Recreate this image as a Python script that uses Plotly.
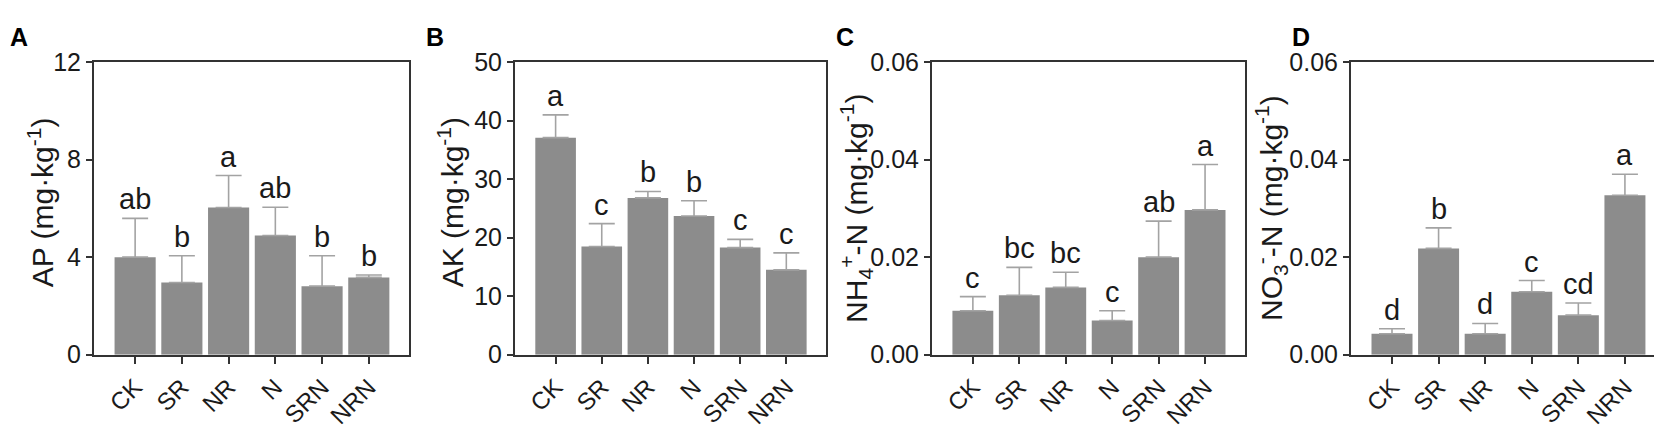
import plotly.graph_objects as go

categories = ["CK", "SR", "NR", "N", "SRN", "NRN"]

ap_mean = [4.00, 2.96, 6.04, 4.89, 2.81, 3.17]
ap_err = [1.59, 1.10, 1.31, 1.16, 1.25, 0.10]
ap_letters = ["ab", "b", "a", "ab", "b", "b"]

ak_mean = [37.1, 18.5, 26.8, 23.7, 18.3, 14.5]
ak_err = [3.9, 3.9, 1.1, 2.6, 1.4, 2.9]
ak_letters = ["a", "c", "b", "b", "c", "c"]

nh4_mean = [0.0090, 0.0122, 0.0138, 0.0070, 0.0200, 0.0297]
nh4_err = [0.0029, 0.0057, 0.0031, 0.0020, 0.0074, 0.0093]
nh4_letters = ["c", "bc", "bc", "c", "ab", "a"]

no3_mean = [0.0043, 0.0218, 0.0043, 0.0129, 0.0081, 0.0327]
no3_err = [0.0010, 0.0042, 0.0021, 0.0023, 0.0025, 0.0043]
no3_letters = ["d", "b", "d", "c", "cd", "a"]

panel_labels = ["A", "B", "C", "D"]
y_titles = [
    "AP (mg·kg<sup>-1</sup>)",
    "AK (mg·kg<sup>-1</sup>)",
    "NH<sub>4</sub><sup>+</sup>-N (mg·kg<sup>-1</sup>)",
    "NO<sub>3</sub><sup>-</sup>-N (mg·kg<sup>-1</sup>)",
]
y_ranges = [[0, 12], [0, 50], [0, 0.06], [0, 0.06]]
y_ticks = [[0, 4, 8, 12], [0, 10, 20, 30, 40, 50], [0, 0.02, 0.04, 0.06], [0, 0.02, 0.04, 0.06]]
y_ticktext = [["0", "4", "8", "12"], ["0", "10", "20", "30", "40", "50"],
              ["0.00", "0.02", "0.04", "0.06"], ["0.00", "0.02", "0.04", "0.06"]]

means = [ap_mean, ak_mean, nh4_mean, no3_mean]
errs = [ap_err, ak_err, nh4_err, no3_err]
letters = [ap_letters, ak_letters, nh4_letters, no3_letters]

W, H = 1662, 427
# plot-area pixel boxes (left, right)
boxes = [(86, 401), (507, 818), (924, 1237), (1343, 1657)]
top_px, bottom_px = 43, 356
label_x = [0, 416, 826, 1282]
label_y = 16
title_x = [33, 443, 848, 1263]
title_y = [193, 193, 200, 199]

FONT = "Liberation Sans, Arial, sans-serif"
BAR = "#8c8c8c"
ERR = "#a3a3a3"
AXC = "#333333"
TXT = "#1a1a1a"

fig = go.Figure()
layout = dict(
    width=W, height=H, margin=dict(l=0, r=0, t=0, b=0),
    paper_bgcolor="white", plot_bgcolor="white", showlegend=False,
    font=dict(family=FONT, color=TXT), bargap=0.12,
)
annotations = []
for i in range(4):
    xa = "x" if i == 0 else f"x{i+1}"
    ya = "y" if i == 0 else f"y{i+1}"
    fig.add_trace(go.Bar(
        x=categories, y=means[i], xaxis=xa, yaxis=ya,
        marker=dict(color=BAR, line=dict(width=0)),
        error_y=dict(type="data", array=errs[i], arrayminus=[0]*6, symmetric=False,
                     color=ERR, thickness=1.6, width=13),
    ))
    l, r = boxes[i]
    xkey = "xaxis" if i == 0 else f"xaxis{i+1}"
    ykey = "yaxis" if i == 0 else f"yaxis{i+1}"
    layout[xkey] = dict(
        domain=[l / W, r / W], anchor=ya, range=[-0.88, 5.86],
        showline=True, linecolor=AXC, linewidth=2, mirror=True,
        ticks="outside", ticklen=7, tickwidth=1.5, tickcolor=AXC,
        tickangle=-45, tickfont=dict(size=24, family=FONT, color=TXT),
        showgrid=False, zeroline=False, fixedrange=True,
    )
    layout[ykey] = dict(
        domain=[1 - bottom_px / H, 1 - top_px / H], anchor=xa, range=y_ranges[i],
        tickvals=y_ticks[i], ticktext=y_ticktext[i],
        showline=True, linecolor=AXC, linewidth=2, mirror=True,
        ticks="outside", ticklen=6, tickwidth=1.5, tickcolor=AXC,
        tickfont=dict(size=25, family=FONT, color=TXT),
        showgrid=False, zeroline=False, fixedrange=True,
    )
    for j, c in enumerate(categories):
        annotations.append(dict(
            x=c, y=means[i][j] + errs[i][j], xref=xa, yref=ya,
            text=letters[i][j], showarrow=False, yanchor="bottom", yshift=1,
            font=dict(size=29, family=FONT, color=TXT),
        ))
    annotations.append(dict(
        x=title_x[i] / W, y=1 - title_y[i] / H, xref="paper", yref="paper",
        xanchor="center", yanchor="middle", textangle=-90,
        text=y_titles[i], showarrow=False,
        font=dict(size=30, family=FONT, color=TXT),
    ))
    annotations.append(dict(
        x=label_x[i] / W, y=1 - label_y / H, xref="paper", yref="paper",
        xanchor="left", yanchor="middle",
        text=f"<b>{panel_labels[i]}</b>", showarrow=False,
        font=dict(size=25, family=FONT, color="#000000"),
    ))
layout["annotations"] = annotations
fig.update_layout(**layout)
fig.write_html("out.html")
